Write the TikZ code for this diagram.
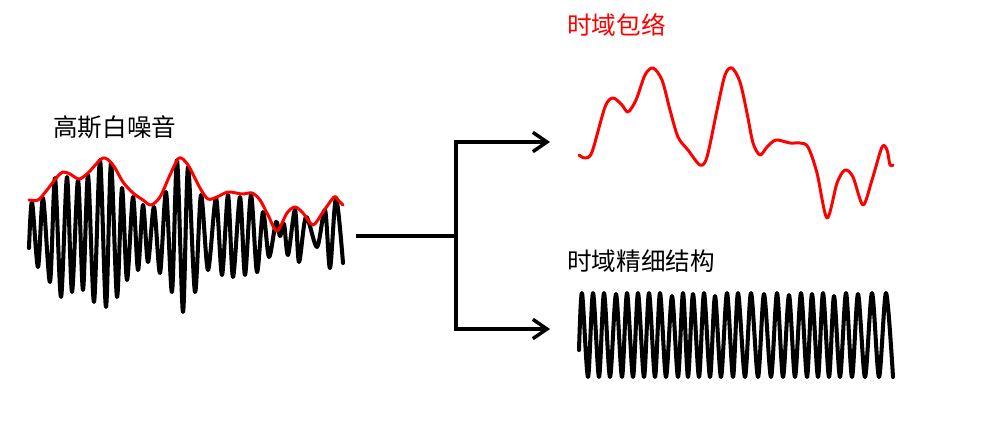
\documentclass[tikz,border=0pt]{standalone}
\usepackage{fontspec}
\newfontfamily\cjk{Noto Sans CJK SC}
\usepackage{tikz}
\usetikzlibrary{arrows.meta}
\usepackage{xcolor}
\definecolor{envred}{RGB}{255,0,0}
\tikzset{
  sigline/.style={line width=2.3pt,draw=black,line join=round,line cap=round},
  envline/.style={line width=1.7pt,draw=envred,line join=round,line cap=round},
  flowline/.style={line width=2pt,draw=black},
  flowarrow/.style={flowline,-{Straight Barb[length=8pt,width=11pt,line width=2pt]}},
  cjklabel/.style={font=\cjk\fontsize{14}{16}\selectfont,inner sep=0pt,anchor=west}
}

\begin{document}
\begin{tikzpicture}[x=0.02cm,y=-0.02cm]
  \useasboundingbox (0,0) rectangle (997,447);
  % labels
  \node[cjklabel] (noiselabel) at (53,127) {高斯白噪音};
  \node[cjklabel,text=envred] (envlabel) at (567,25) {时域包络};
  \node[cjklabel] (tfslabel) at (567,261) {时域精细结构};
  % gaussian white noise
  \draw[sigline] plot[smooth] coordinates {
    (29,248) (32,202) (38,267) (43,198) (50,282) (55,178) (61,297)
    (67,177) (72,292) (78,180) (83,290) (88,175) (94,302) (100,160)
    (106,307) (111,163) (117,297) (122,188) (127,280) (133,197)
    (138,270) (143,205) (148,262) (154,207) (160,273) (166,192)
    (172,292) (177,160) (183,312) (188,167) (195,292) (201,195)
    (208,270) (216,198) (222,275) (228,195) (233,277) (240,197)
    (245,275) (251,195) (257,272) (263,212) (269,257) (276,222)
    (280,236) (284,224) (288,255) (295,210) (299,262) (306,217)
    (317,247) (325,210) (330,268) (336,198) (343,263)};
  \draw[envline] plot[smooth] coordinates {
    (29,200) (38,200) (47,190) (57,177) (63,172) (70,174) (79,179)
    (88,173) (103,158) (113,165) (123,182) (133,193) (143,200)
    (151,205) (160,197) (170,175) (179,158) (188,165) (200,188)
    (208,199) (217,197) (228,192) (242,194) (252,193) (260,200)
    (268,215) (277,231) (287,213) (295,207) (303,213) (313,225)
    (323,212) (334,197) (338,200) (343,205)};
  % split arrows
  \coordinate (src) at (356,236);
  \coordinate (fork) at (456,236);
  \coordinate (envin) at (550,142);
  \coordinate (tfsin) at (550,329);
  \draw[flowline] (src) -- (fork);
  \draw[flowarrow] (fork) |- (envin);
  \draw[flowarrow] (fork) |- (tfsin);
  % temporal envelope
  \draw[envline] plot[smooth] coordinates {
    (579,155) (585,158) (592,152) (605,107) (613,98) (622,105)
    (628,112) (636,100) (645,75) (653,68) (662,80) (670,110)
    (678,137) (688,150) (700,165) (707,157) (717,110) (725,75)
    (732,68) (740,82) (747,113) (753,143) (760,155) (767,147)
    (776,140) (790,143) (800,143) (808,147) (817,173) (827,218)
    (837,183) (845,170) (853,177) (863,205) (872,180) (882,147)
    (887,150) (890,165) (893,165)};
  % temporal fine structure
  \draw[sigline] plot[smooth] coordinates {
    (579,350) (582,293) (588,377) (593,293) (599,377) (604,293)
    (610,377) (616,294) (622,377) (627,293) (633,377) (638,293)
    (644,377) (649,293) (655,377) (660,293) (666,377) (672,296)
    (678,377) (683,293) (688,377) (693,294) (699,377) (704,293)
    (710,377) (715,296) (721,377) (727,293) (733,377) (738,293)
    (745,377) (751,293) (758,377) (764,294) (771,377) (777,293)
    (783,377) (789,295) (795,377) (801,293) (807,377) (812,294)
    (818,377) (823,293) (829,377) (834,296) (840,377) (846,293)
    (852,377) (858,294) (865,377) (872,293) (879,377) (886,293)
    (893,377)};
\end{tikzpicture}
\end{document}
